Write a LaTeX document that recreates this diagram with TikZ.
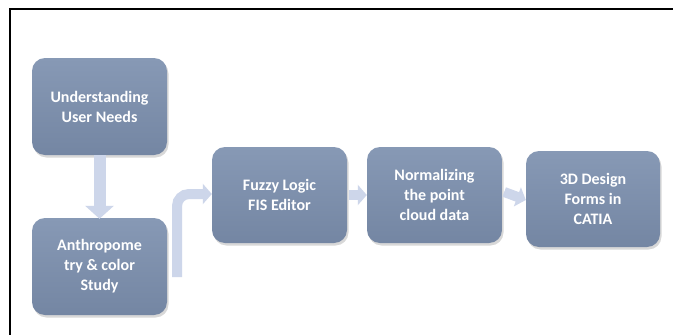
\documentclass[tikz,border=0pt]{standalone}
\usepackage{fontspec}
\setmainfont{Carlito}
\usetikzlibrary{arrows.meta,shadows}
\definecolor{boxtop}{HTML}{8799B5}
\definecolor{boxbot}{HTML}{7486A3}
\definecolor{arrcol}{HTML}{CDD6EA}
\tikzset{
  stepbox/.style={rectangle, rounded corners=13pt, minimum width=135pt, minimum height=97pt,
    top color=boxtop, bottom color=boxbot, draw=none, text=white, align=center,
    font=\bfseries\fontsize{16}{20}\selectfont,
    drop shadow={shadow xshift=1.5pt, shadow yshift=-2.5pt, opacity=0.25, fill=black!60}},
  bigarrow/.style={draw=arrcol, line width=12pt, -{Triangle[width=28pt,length=13pt]}},
  midarrow/.style={draw=arrcol, line width=10pt, -{Triangle[width=20pt,length=9pt]}},
}
\begin{document}
\begin{tikzpicture}[x=1pt,y=-1pt]
\useasboundingbox (0,0) rectangle (673,335);
\fill[white] (0,0) rectangle (673,335);
\draw[line width=2pt] (10,335) -- (10,9) -- (673,9);
\node[stepbox] (b1) at (99.5,106.5) {Understanding\\User Needs};
\node[stepbox] (b2) at (99.5,266.5) {Anthropome\\try \& color\\Study};
\node[stepbox, minimum height=96pt] (b3) at (279.5,195) {Fuzzy Logic\\FIS Editor};
\node[stepbox, minimum height=96pt] (b4) at (434.5,195) {Normalizing\\the point\\cloud data};
\node[stepbox, minimum width=134pt, minimum height=96pt] (b5) at (593,199) {3D Design\\Forms in\\CATIA};
\coordinate (s) at (177,277);
\draw[bigarrow] (b1.south) -- ([yshift=-1pt]b2.north);
\draw[midarrow, rounded corners=12pt] (s) |- ([yshift=1pt]b3.west);
\draw[midarrow] ([xshift=2pt]b3.east) -- (b4.west);
\draw[midarrow] ([xshift=2pt,yshift=3pt]b4.east) -- ([yshift=-1pt]b5.west);
\end{tikzpicture}
\end{document}
